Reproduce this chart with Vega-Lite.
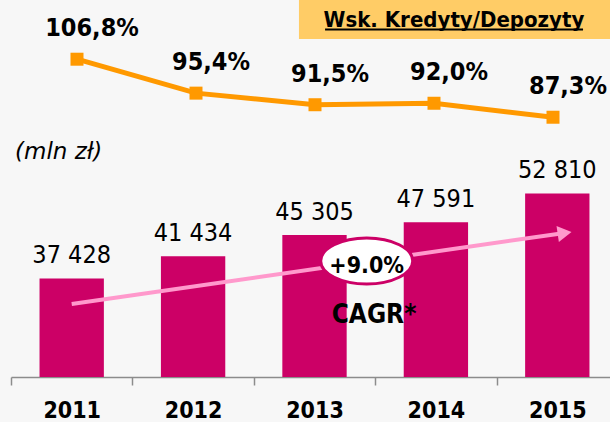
{
  "$schema": "https://vega.github.io/schema/vega-lite/v6.json",
  "width": 599,
  "height": 377,
  "autosize": {"type": "none"},
  "padding": {"left": 11, "top": 0, "right": 0, "bottom": 45},
  "background": "#F7F7F7",
  "config": {"view": {"stroke": null}, "font": "DejaVu Sans Condensed"},
  "datasets": {
    "bars": [
      {"year": "2011", "value": 37428, "label": "37 428"},
      {"year": "2012", "value": 41434, "label": "41 434"},
      {"year": "2013", "value": 45305, "label": "45 305"},
      {"year": "2014", "value": 47591, "label": "47 591"},
      {"year": "2015", "value": 52810, "label": "52 810"}
    ],
    "ratio": [
      {"year": 2011, "ratio": 106.8, "label": "106,8%"},
      {"year": 2012, "ratio": 95.4, "label": "95,4%"},
      {"year": 2013, "ratio": 91.5, "label": "91,5%"},
      {"year": 2014, "ratio": 92.0, "label": "92,0%"},
      {"year": 2015, "ratio": 87.3, "label": "87,3%"}
    ],
    "box": [{"x": 2012.872, "x2": 2015.434, "y": 87823, "y2": 80765}],
    "arrow": [{"x": 2011.0, "y": 32810, "x2": 2015.06, "y2": 45677}],
    "arrowhead": [{"x": 2015.06, "y": 45677}],
    "ellipse": [{"x": 2013.43, "y": 40592}],
    "cagr": [{"x": 2013.43, "y": 38420, "text": "+9.0%"}],
    "cagrlabel": [{"x": 2013.49, "y": 29372, "text": "CAGR*"}],
    "unit": [{"x": 2010.533, "y": 59050, "text": "(mln zł)"}],
    "legendtext": [{"x": 2014.149, "y": 82937, "text": "Wsk. Kredyty/Depozyty"}],
    "underline": [{"x": 2013.087, "x2": 2015.212, "y": 82485}]
  },
  "resolve": {"scale": {"x": "independent", "y": "independent"}},
  "layer": [
    {
      "data": {"name": "box"},
      "mark": {"type": "rect", "color": "#FFCC66"},
      "encoding": {
        "x": {"field": "x", "type": "quantitative", "scale": {"domain": [2010.5, 2015.434]}, "axis": null},
        "x2": {"field": "x2"},
        "y": {"field": "y", "type": "quantitative", "scale": {"domain": [19600, 87823]}, "axis": null},
        "y2": {"field": "y2"}
      }
    },
    {
      "data": {"name": "bars"},
      "mark": {"type": "bar", "color": "#CC0066", "width": {"band": 0.53}},
      "encoding": {
        "x": {
          "field": "year", "type": "nominal",
          "scale": {"range": [0, 607], "paddingInner": 0, "paddingOuter": 0},
          "axis": {
            "title": null, "labelAngle": 0, "domainColor": "#8C8C8C", "domainWidth": 1.5,
            "tickColor": "#8C8C8C", "tickWidth": 1.5, "tickSize": 8, "tickBand": "extent",
            "labelFont": "DejaVu Sans Condensed", "labelFontWeight": "bold", "labelFontSize": 23,
            "labelColor": "#000000", "labelPadding": 14
          }
        },
        "y": {"field": "value", "type": "quantitative", "scale": {"domain": [19600, 87823]}, "axis": null},
        "y2": {"datum": 19600}
      }
    },
    {
      "data": {"name": "bars"},
      "mark": {"type": "text", "fontSize": 25, "baseline": "alphabetic", "dy": -15, "color": "#000000"},
      "encoding": {
        "x": {"field": "year", "type": "nominal", "scale": {"range": [0, 607], "paddingInner": 0, "paddingOuter": 0}, "axis": null},
        "y": {"field": "value", "type": "quantitative", "scale": {"domain": [19600, 87823]}, "axis": null},
        "text": {"field": "label"}
      }
    },
    {
      "data": {"name": "ratio"},
      "mark": {"type": "line", "color": "#FF9900", "strokeWidth": 5,
               "point": {"shape": "square", "size": 169, "filled": true, "color": "#FF9900", "opacity": 1}},
      "encoding": {
        "x": {"field": "year", "type": "quantitative", "scale": {"domain": [2010.4454, 2015.479]}, "axis": null},
        "y": {"field": "ratio", "type": "quantitative", "scale": {"domain": [0, 126.7]}, "axis": null}
      }
    },
    {
      "data": {"name": "ratio"},
      "mark": {"type": "text", "fontSize": 25, "fontWeight": "bold", "baseline": "alphabetic", "dx": 15, "dy": -23, "color": "#000000"},
      "encoding": {
        "x": {"field": "year", "type": "quantitative", "scale": {"domain": [2010.4454, 2015.479]}, "axis": null},
        "y": {"field": "ratio", "type": "quantitative", "scale": {"domain": [0, 126.7]}, "axis": null},
        "text": {"field": "label"}
      }
    },
    {
      "data": {"name": "arrow"},
      "mark": {"type": "rule", "color": "#FF99CC", "strokeWidth": 4},
      "encoding": {
        "x": {"field": "x", "type": "quantitative", "scale": {"domain": [2010.5, 2015.434]}, "axis": null},
        "x2": {"field": "x2"},
        "y": {"field": "y", "type": "quantitative", "scale": {"domain": [19600, 87823]}, "axis": null},
        "y2": {"field": "y2"}
      }
    },
    {
      "data": {"name": "arrowhead"},
      "mark": {"type": "point", "shape": "triangle-right", "angle": -8.3, "size": 260, "filled": true, "color": "#FF99CC", "opacity": 1},
      "encoding": {
        "x": {"field": "x", "type": "quantitative", "scale": {"domain": [2010.5, 2015.434]}, "axis": null},
        "y": {"field": "y", "type": "quantitative", "scale": {"domain": [19600, 87823]}, "axis": null}
      }
    },
    {
      "data": {"name": "ellipse"},
      "mark": {"type": "point", "shape": "M -1 0 A 1 0.5 0 1 1 1 0 A 1 0.5 0 1 1 -1 0 Z", "size": 8464, "filled": true, "fill": "#FFFFFF", "stroke": "#CC0066", "strokeWidth": 3, "opacity": 1},
      "encoding": {
        "x": {"field": "x", "type": "quantitative", "scale": {"domain": [2010.5, 2015.434]}, "axis": null},
        "y": {"field": "y", "type": "quantitative", "scale": {"domain": [19600, 87823]}, "axis": null}
      }
    },
    {
      "data": {"name": "cagr"},
      "mark": {"type": "text", "fontSize": 23, "fontWeight": "bold", "baseline": "alphabetic", "align": "center", "color": "#000000"},
      "encoding": {
        "x": {"field": "x", "type": "quantitative", "scale": {"domain": [2010.5, 2015.434]}, "axis": null},
        "y": {"field": "y", "type": "quantitative", "scale": {"domain": [19600, 87823]}, "axis": null},
        "text": {"field": "text"}
      }
    },
    {
      "data": {"name": "cagrlabel"},
      "mark": {"type": "text", "fontSize": 26, "fontWeight": "bold", "baseline": "alphabetic", "align": "center", "color": "#000000"},
      "encoding": {
        "x": {"field": "x", "type": "quantitative", "scale": {"domain": [2010.5, 2015.434]}, "axis": null},
        "y": {"field": "y", "type": "quantitative", "scale": {"domain": [19600, 87823]}, "axis": null},
        "text": {"field": "text"}
      }
    },
    {
      "data": {"name": "unit"},
      "mark": {"type": "text", "font": "DejaVu Sans", "fontSize": 23, "fontStyle": "italic", "baseline": "alphabetic", "align": "left", "color": "#000000"},
      "encoding": {
        "x": {"field": "x", "type": "quantitative", "scale": {"domain": [2010.5, 2015.434]}, "axis": null},
        "y": {"field": "y", "type": "quantitative", "scale": {"domain": [19600, 87823]}, "axis": null},
        "text": {"field": "text"}
      }
    },
    {
      "data": {"name": "legendtext"},
      "mark": {"type": "text", "fontSize": 22, "fontWeight": "bold", "baseline": "alphabetic", "align": "center", "color": "#000000"},
      "encoding": {
        "x": {"field": "x", "type": "quantitative", "scale": {"domain": [2010.5, 2015.434]}, "axis": null},
        "y": {"field": "y", "type": "quantitative", "scale": {"domain": [19600, 87823]}, "axis": null},
        "text": {"field": "text"}
      }
    },
    {
      "data": {"name": "underline"},
      "mark": {"type": "rule", "color": "#000000", "strokeWidth": 2},
      "encoding": {
        "x": {"field": "x", "type": "quantitative", "scale": {"domain": [2010.5, 2015.434]}, "axis": null},
        "x2": {"field": "x2"},
        "y": {"field": "y", "type": "quantitative", "scale": {"domain": [19600, 87823]}, "axis": null}
      }
    }
  ]
}
